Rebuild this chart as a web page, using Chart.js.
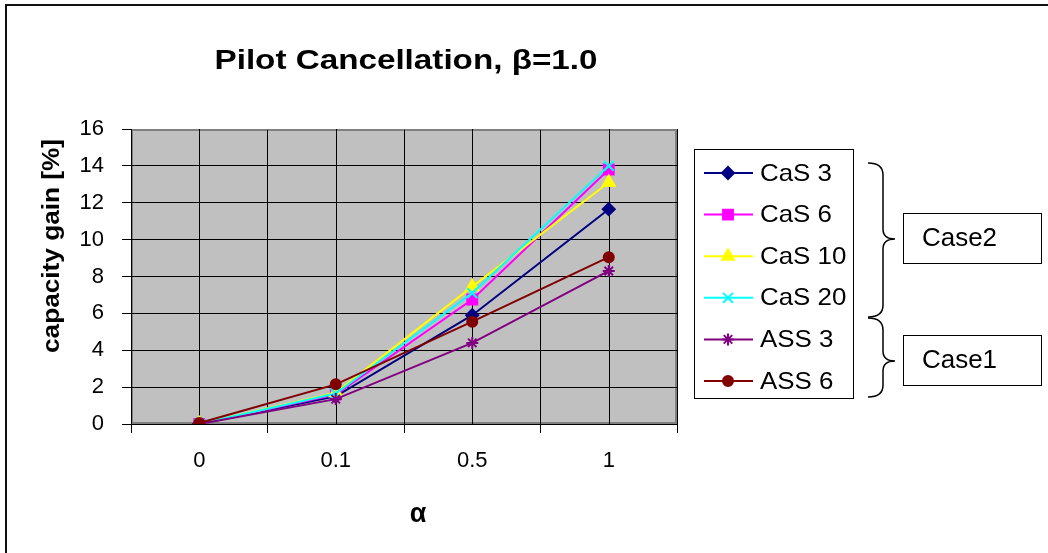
<!DOCTYPE html>
<html>
<head>
<meta charset="utf-8">
<script src="https://cdn.jsdelivr.net/npm/chart.js@4"></script>
<style>
  html, body { margin: 0; padding: 0; background: #fff; }
  #wrap { position: relative; width: 1048px; height: 553px; overflow: hidden; }
</style>
</head>
<body>
<div id="wrap"><canvas id="chart" width="1048" height="553"></canvas></div>
<script>
// values
const alphaLabels = ["0", "0.1", "0.5", "1"];
const cas3 = [0, 1.5, 5.9, 11.65];
const cas6 = [0, 1.6, 6.75, 13.8];
const cas10 = [0, 1.7, 7.45, 13.1];
const cas20 = [0, 1.65, 7.1, 14.0];
const ass3 = [0, 1.35, 4.4, 8.3];
const ass6 = [0.05, 2.15, 5.55, 9.05];
const seriesNames = ["CaS 3", "CaS 6", "CaS 10", "CaS 20", "ASS 3", "ASS 6"];
const yMin = 0;
const yMax = 16;
const yStep = 2;

const FONT = '"Liberation Sans", Arial, sans-serif';

const STYLES = [
  { color: "#000080", point: "rectRot", radius: 6 },
  { color: "#FF00FF", point: "rect", radius: 7 },
  { color: "#FFFF00", point: "triangle", radius: 7 },
  { color: "#00FFFF", point: "crossRot", radius: 7 },
  { color: "#800080", point: "star", radius: 6 },
  { color: "#800000", point: "circle", radius: 5 },
];

const seriesData = [cas3, cas6, cas10, cas20, ass3, ass6];

const datasets = seriesData.map((data, i) => ({
  label: seriesNames[i],
  data,
  borderColor: STYLES[i].color,
  backgroundColor: STYLES[i].color,
  pointBackgroundColor: STYLES[i].color,
  pointBorderColor: STYLES[i].color,
  pointStyle: STYLES[i].point,
  pointRadius: STYLES[i].radius,
  pointBorderWidth: 2,
  borderWidth: 2,
  tension: 0,
  order: 6 - i,
}));

// draws text squeezed/stretched horizontally by sx (the source used wide, hinted glyphs)
function stretchText(ctx, text, x, y, font, sx, align) {
  ctx.save();
  ctx.font = font;
  ctx.textAlign = align || "left";
  ctx.translate(x, y);
  ctx.scale(sx, 1);
  ctx.fillText(text, 0, 0);
  ctx.restore();
}

function widthFactor(ctx, text, font, target) {
  ctx.save();
  ctx.font = font;
  const w = ctx.measureText(text).width;
  ctx.restore();
  return target / w;
}

function drawBrace(ctx, x0, xm, xt, yTop, yTip, yBot) {
  ctx.beginPath();
  ctx.moveTo(x0, yTop);
  ctx.quadraticCurveTo(xm, yTop, xm, yTop + 12);
  ctx.lineTo(xm, yTip - 10);
  ctx.quadraticCurveTo(xm, yTip, xt, yTip);
  ctx.quadraticCurveTo(xm, yTip, xm, yTip + 10);
  ctx.lineTo(xm, yBot - 12);
  ctx.quadraticCurveTo(xm, yBot, x0, yBot);
  ctx.stroke();
}

function drawCaseBox(ctx, x, y, w, h, text, font, sx) {
  ctx.fillStyle = "#fff";
  ctx.fillRect(x, y, w, h);
  ctx.strokeStyle = "#000";
  ctx.lineWidth = 1;
  ctx.strokeRect(x + 0.5, y + 0.5, w, h);
  ctx.fillStyle = "#000";
  ctx.textBaseline = "middle";
  stretchText(ctx, text, x + 19, y + h / 2 + 1, font, sx);
}

const decorPlugin = {
  id: "decor",
  beforeDraw(chart) {
    const { ctx, chartArea: a } = chart;
    ctx.save();
    ctx.fillStyle = "#fff";
    ctx.fillRect(0, 0, chart.width, chart.height);
    // outer chart frame (only left and top edges are in view)
    ctx.fillStyle = "#111";
    ctx.fillRect(5, 4, 2, chart.height);
    ctx.fillRect(5, 4, chart.width, 2);
    // plot area
    ctx.fillStyle = "#C0C0C0";
    ctx.fillRect(a.left, a.top, a.right - a.left, a.bottom - a.top);
    ctx.strokeStyle = "#808080";
    ctx.lineWidth = 2;
    ctx.strokeRect(a.left + 1, a.top + 1, a.right - a.left - 2, a.bottom - a.top - 2);
    ctx.restore();
  },
  beforeDatasetsDraw(chart) {
    // vertical lines through each category
    const { ctx, chartArea: a } = chart;
    const x = chart.scales.x;
    ctx.save();
    ctx.strokeStyle = "#000";
    ctx.lineWidth = 1;
    alphaLabels.forEach((_, i) => {
      const px = Math.round(x.getPixelForValue(i)) + 0.5;
      ctx.beginPath();
      ctx.moveTo(px, a.top);
      ctx.lineTo(px, a.bottom);
      ctx.stroke();
    });
    ctx.restore();
  },
  afterDraw(chart) {
    const { ctx } = chart;
    ctx.save();
    ctx.fillStyle = "#000";

    // title
    const title = "Pilot Cancellation, \u03B2=1.0";
    const titleFont = "bold 27px " + FONT;
    ctx.textBaseline = "alphabetic";
    stretchText(ctx, title, 406, 69, titleFont, widthFactor(ctx, title, titleFont, 383), "center");

    // axis titles
    ctx.textBaseline = "middle";
    stretchText(ctx, "\u03B1", 418, 515, "bold 27px " + FONT, 1, "center");
    const yTitle = "capacity gain [%]";
    const yFont = "bold 24px " + FONT;
    ctx.save();
    ctx.translate(52, 246);
    ctx.rotate(-Math.PI / 2);
    stretchText(ctx, yTitle, 0, 0, yFont, widthFactor(ctx, yTitle, yFont, 214), "center");
    ctx.restore();
    ctx.restore();

    // legend
    ctx.save();
    const lx = 694, ly = 149, lw = 159, lh = 249;
    ctx.fillStyle = "#fff";
    ctx.fillRect(lx, ly, lw, lh);
    ctx.strokeStyle = "#000";
    ctx.lineWidth = 1;
    ctx.strokeRect(lx + 0.5, ly + 0.5, lw, lh);
    const legFont = "24px " + FONT;
    const legSx = widthFactor(ctx, "CaS 3", legFont, 72);
    chart.data.datasets.forEach((ds, i) => {
      const cy = 173 + i * 41.6;
      ctx.strokeStyle = ds.borderColor;
      ctx.lineWidth = 2;
      ctx.beginPath();
      ctx.moveTo(704, cy);
      ctx.lineTo(753, cy);
      ctx.stroke();
      ctx.fillStyle = ds.pointBackgroundColor;
      ctx.strokeStyle = ds.pointBorderColor;
      Chart.helpers.drawPoint(ctx, {
        pointStyle: ds.pointStyle,
        radius: ds.pointRadius,
        rotation: 0,
        borderWidth: 2,
      }, 728, cy);
      ctx.fillStyle = "#000";
      ctx.textBaseline = "middle";
      stretchText(ctx, ds.label, 760, cy + 1, legFont, legSx);
    });

    // braces and case boxes
    ctx.strokeStyle = "#000";
    ctx.lineWidth = 1.5;
    drawBrace(ctx, 868, 883, 895, 163, 239, 317);
    drawBrace(ctx, 868, 883, 895, 318, 361, 397);
    const caseFont = "25px " + FONT;
    const caseSx = widthFactor(ctx, "Case2", caseFont, 75);
    drawCaseBox(ctx, 903, 213, 138, 50, "Case2", caseFont, caseSx);
    drawCaseBox(ctx, 903, 335, 138, 50, "Case1", caseFont, caseSx);
    ctx.restore();
  },
};

new Chart(document.getElementById("chart"), {
  type: "line",
  data: { labels: alphaLabels, datasets },
  plugins: [decorPlugin],
  options: {
    responsive: false,
    animation: false,
    layout: { padding: { top: 129, right: 371, left: 0, bottom: 0 } },
    plugins: {
      legend: { display: false },
      title: { display: false },
      tooltip: { enabled: false },
    },
    scales: {
      x: {
        type: "category",
        offset: true,
        afterFit(scale) { scale.height = 129; },
        grid: {
          offset: true,
          color: (ctx) => (ctx.index === alphaLabels.length ? "#808080" : "#000"),
          tickColor: "#000",
          tickLength: 9,
          lineWidth: 1,
        },
        border: { display: true, color: "#000", width: 1 },
        ticks: { color: "#000", font: { family: FONT, size: 22 }, padding: 15, maxRotation: 0 },
      },
      y: {
        min: yMin,
        max: yMax,
        afterFit(scale) { scale.width = 131; },
        grid: {
          color: (ctx) => (ctx.tick && ctx.tick.value === yMax ? "#808080" : "#000"),
          tickColor: "#000",
          tickLength: 9,
          lineWidth: 1,
        },
        border: { display: true, color: "#000", width: 1 },
        ticks: { stepSize: yStep, color: "#000", font: { family: FONT, size: 22 }, padding: 18 },
      },
    },
  },
});
</script>
</body>
</html>
